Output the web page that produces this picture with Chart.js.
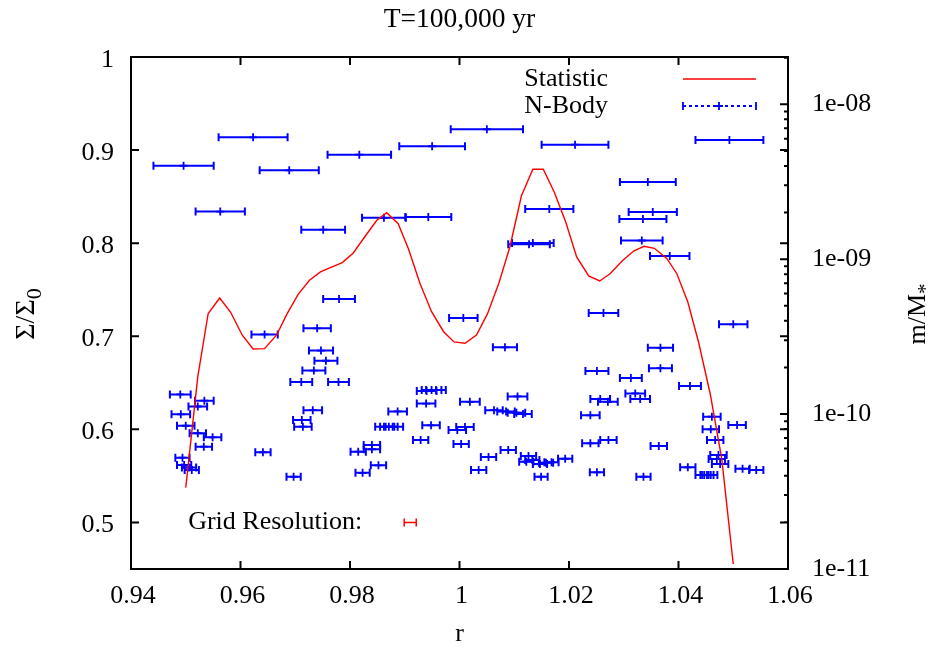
<!DOCTYPE html>
<html>
<head>
<meta charset="utf-8">
<title>T=100,000 yr</title>
<script src="https://cdn.jsdelivr.net/npm/chart.js@4/dist/chart.umd.min.js"></script>
<style>
  html, body { margin: 0; padding: 0; background: #fff; }
  #wrap { width: 942px; height: 650px; }
</style>
</head>
<body>
<div id="wrap"><canvas id="c" width="942" height="650"></canvas></div>
<script>
// Statistic curve: surface density ratio along the radial grid
const statR = [0.9500, 0.9522, 0.9541, 0.9562, 0.9582, 0.9603, 0.9623, 0.9644, 0.9666, 0.9685,
               0.9705, 0.9726, 0.9746, 0.9765, 0.9786, 0.9806, 0.9828, 0.9849, 0.9867, 0.9888,
               0.9907, 0.9928, 0.9949, 0.9971, 0.9990, 1.0010, 1.0031, 1.0051, 1.0072, 1.0092,
               1.0113, 1.0134, 1.0153, 1.0173, 1.0194, 1.0214, 1.0236, 1.0256, 1.0275, 1.0297,
               1.0318, 1.0337, 1.0356, 1.0379, 1.0397, 1.0417, 1.0437, 1.0458, 1.0479, 1.0500];
const statSigma = [0.5374, 0.6566, 0.7245, 0.7411, 0.7258, 0.7014, 0.6864, 0.6867, 0.7014, 0.7240,
                   0.7447, 0.7602, 0.7691, 0.7739, 0.7791, 0.7895, 0.8077, 0.8246, 0.8328, 0.8209,
                   0.7934, 0.7565, 0.7264, 0.7049, 0.6939, 0.6925, 0.7014, 0.7240, 0.7573, 0.7959,
                   0.8507, 0.8794, 0.8794, 0.8550, 0.8228, 0.7852, 0.7648, 0.7594, 0.7672, 0.7809,
                   0.7916, 0.7967, 0.7945, 0.7834, 0.7672, 0.7368, 0.6928, 0.6380, 0.5682, 0.4554];

// N-body embryos: orbital radius, mass (m/M*) and radial half-width of the bar
const bodyR = [0.9623, 0.9496, 0.9689, 0.9817, 0.9950, 1.0050, 1.0211, 1.0493, 0.9563, 0.9751,
               0.9862, 0.9943, 1.0164, 1.0127, 1.0134, 1.0344, 1.0353, 1.0335, 1.0333, 1.0384,
               0.9780, 1.0263, 1.0500, 1.0367, 1.0251, 1.0367, 1.0313, 1.0421, 1.0321, 1.0330,
               1.0257, 1.0271, 1.0239, 1.0461, 1.0507, 1.0459, 1.0467, 1.0239, 1.0272, 1.0364,
               1.0470, 1.0476, 1.0473, 1.0417, 1.0517, 1.0542, 1.0251, 1.0443, 1.0452, 1.0459,
               1.0336, 1.0007, 1.0083, 0.9940, 0.9949, 0.9957, 0.9939, 0.9887, 1.0019, 1.0106,
               1.0063, 1.0085, 1.0104, 1.0116, 0.9862, 0.9871, 0.9881, 0.9948, 0.9996, 1.0010,
               0.9929, 1.0003, 0.9840, 0.9840, 0.9815, 1.0053, 1.0089, 1.0126, 1.0122, 1.0133,
               1.0147, 1.0158, 1.0168, 1.0193, 0.9852, 0.9823, 1.0035, 1.0149, 0.9644, 0.9740,
               0.9747, 0.9756, 0.9734, 0.9711, 0.9779, 0.9490, 0.9534, 0.9522, 0.9491, 0.9732,
               0.9712, 0.9714, 0.9500, 0.9522, 0.9549, 0.9533, 0.9641, 0.9494, 0.9497, 0.9506,
               0.9511, 0.9697];
const bodyMass = [6.12e-9, 4.01e-9, 3.75e-9, 4.73e-9, 5.36e-9, 6.90e-9, 5.49e-9, 5.88e-9, 2.03e-9, 1.55e-9,
                  1.85e-9, 1.87e-9, 2.11e-9, 1.25e-9, 1.27e-9, 3.15e-9, 2.02e-9, 1.82e-9, 1.32e-9, 1.05e-9,
                  5.53e-10, 4.50e-10, 3.80e-10, 2.68e-10, 1.90e-10, 1.98e-10, 1.71e-10, 1.52e-10, 1.36e-10, 1.25e-10,
                  1.25e-10, 1.20e-10, 9.82e-11, 9.62e-11, 8.50e-11, 7.98e-11, 6.80e-11, 6.48e-11, 6.80e-11, 6.22e-11,
                  5.13e-11, 4.76e-11, 5.45e-11, 4.53e-11, 4.44e-11, 4.35e-11, 4.21e-11, 4.04e-11, 4.04e-11, 4.04e-11,
                  3.94e-11, 4.17e-10, 2.70e-10, 1.41e-10, 1.43e-10, 1.43e-10, 1.17e-10, 1.04e-10, 1.20e-10, 1.30e-10,
                  1.06e-10, 1.04e-10, 1.02e-10, 1.00e-10, 8.29e-11, 8.29e-11, 8.29e-11, 8.46e-11, 7.90e-11, 8.25e-11,
                  6.80e-11, 6.41e-11, 6.32e-11, 5.93e-11, 5.72e-11, 5.28e-11, 5.86e-11, 5.36e-11, 4.93e-11, 5.05e-11,
                  4.76e-11, 4.86e-11, 4.88e-11, 5.15e-11, 4.67e-11, 4.18e-11, 4.35e-11, 3.94e-11, 3.27e-10, 3.58e-10,
                  2.57e-10, 2.21e-10, 1.91e-10, 1.61e-10, 1.61e-10, 1.34e-10, 1.22e-10, 1.12e-10, 9.97e-11, 1.06e-10,
                  9.16e-11, 8.29e-11, 8.41e-11, 7.52e-11, 7.08e-11, 6.16e-11, 5.67e-11, 5.23e-11, 4.69e-11, 4.52e-11,
                  4.35e-11, 3.94e-11];
const bodyHalfWidth = [0.0063, 0.0055, 0.0054, 0.0058, 0.0060, 0.0066, 0.0061, 0.0062, 0.0045, 0.0040,
                       0.0040, 0.0042, 0.0044, 0.0038, 0.0038, 0.0051, 0.0044, 0.0043, 0.0038, 0.0036,
                       0.0029, 0.0027, 0.0026, 0.0023, 0.0021, 0.0021, 0.0020, 0.0020, 0.0018, 0.0018,
                       0.0018, 0.0018, 0.0017, 0.0016, 0.0016, 0.0015, 0.0015, 0.0015, 0.0015, 0.0015,
                       0.0015, 0.0015, 0.0015, 0.0014, 0.0013, 0.0013, 0.0013, 0.0012, 0.0012, 0.0012,
                       0.0013, 0.0026, 0.0022, 0.0018, 0.0018, 0.0018, 0.0017, 0.0017, 0.0018, 0.0018,
                       0.0016, 0.0016, 0.0016, 0.0016, 0.0016, 0.0016, 0.0016, 0.0016, 0.0016, 0.0016,
                       0.0014, 0.0014, 0.0015, 0.0015, 0.0014, 0.0014, 0.0014, 0.0014, 0.0013, 0.0013,
                       0.0013, 0.0013, 0.0013, 0.0013, 0.0014, 0.0013, 0.0014, 0.0012, 0.0024, 0.0025,
                       0.0022, 0.0021, 0.0021, 0.0020, 0.0019, 0.0019, 0.0017, 0.0017, 0.0017, 0.0017,
                       0.0016, 0.0016, 0.0016, 0.0015, 0.0016, 0.0015, 0.0014, 0.0013, 0.0013, 0.0013,
                       0.0013, 0.0013];

// Grid resolution marker (one cell of the radial grid)
const gridResR = [0.991];
const gridResSigma = [0.5];
const gridResHalf = [0.0011];

// Axis ticks
const xTicks = [0.94, 0.96, 0.98, 1, 1.02, 1.04, 1.06];
const xTickLabels = ['0.94', '0.96', '0.98', '1', '1.02', '1.04', '1.06'];
const yTicks = [0.5, 0.6, 0.7, 0.8, 0.9, 1];
const yTickLabels = ['0.5', '0.6', '0.7', '0.8', '0.9', '1'];
const y2Ticks = [1e-11, 1e-10, 1e-9, 1e-8];
const y2TickLabels = ['1e-11', '1e-10', '1e-09', '1e-08'];

const FONT = "'Liberation Serif', 'Times New Roman', serif";
const FS = 26;
const BLUE = '#0000ff';
const RED = '#ff0000';

function hBar(ctx, x1, x2, y, cap) {
  ctx.beginPath();
  ctx.moveTo(x1, y); ctx.lineTo(x2, y);
  ctx.moveTo(x1, y - cap); ctx.lineTo(x1, y + cap);
  ctx.moveTo(x2, y - cap); ctx.lineTo(x2, y + cap);
  ctx.stroke();
}

// Rotated axis label with a subscript, reading bottom to top
function rotatedLabel(ctx, cx, cy, main, sub, size) {
  ctx.save();
  ctx.translate(cx, cy);
  ctx.rotate(-Math.PI / 2);
  ctx.fillStyle = '#000';
  ctx.textAlign = 'left';
  ctx.textBaseline = 'alphabetic';
  const mainFont = size + 'px ' + FONT;
  const subFont = Math.round(size * 0.8) + 'px ' + FONT;
  ctx.font = mainFont;
  const w1 = ctx.measureText(main).width;
  ctx.font = subFont;
  const w2 = ctx.measureText(sub).width;
  const start = -(w1 + w2) / 2;
  const base = size * 0.34;
  ctx.font = mainFont;
  ctx.fillText(main, start, base);
  ctx.font = subFont;
  ctx.fillText(sub, start + w1, base + size * 0.28);
  ctx.restore();
}

// Horizontal error bars for the N-body points and the grid cell
const errorBars = {
  id: 'errorBars',
  beforeDatasetsDraw(chart) {
    const { ctx, chartArea: a, scales: { x, y, y2 } } = chart;
    ctx.save();
    ctx.beginPath();
    ctx.rect(a.left, a.top, a.right - a.left, a.bottom - a.top);
    ctx.clip();
    ctx.strokeStyle = BLUE;
    ctx.lineWidth = 2;
    bodyR.forEach((r, i) => {
      hBar(ctx, x.getPixelForValue(r - bodyHalfWidth[i]), x.getPixelForValue(r + bodyHalfWidth[i]),
           y2.getPixelForValue(bodyMass[i]), 4);
    });
    ctx.strokeStyle = RED;
    ctx.lineWidth = 1.5;
    gridResR.forEach((r, i) => {
      hBar(ctx, x.getPixelForValue(r - gridResHalf[i]), x.getPixelForValue(r + gridResHalf[i]),
           y.getPixelForValue(gridResSigma[i]), 4);
    });
    ctx.restore();
  }
};

// Border, inward ticks, key and axis labels
const frame = {
  id: 'frame',
  afterDraw(chart) {
    const { ctx, chartArea: a, scales: { x, y, y2 } } = chart;
    ctx.save();
    ctx.strokeStyle = '#000';
    ctx.lineWidth = 2;
    ctx.beginPath();
    xTicks.forEach(v => {
      const px = x.getPixelForValue(v);
      ctx.moveTo(px, a.bottom); ctx.lineTo(px, a.bottom - 8);
      ctx.moveTo(px, a.top); ctx.lineTo(px, a.top + 8);
    });
    yTicks.forEach(v => {
      const py = y.getPixelForValue(v);
      ctx.moveTo(a.left, py); ctx.lineTo(a.left + 8, py);
      ctx.moveTo(a.right, py); ctx.lineTo(a.right - 8, py);
    });
    for (let e = -11; e <= -8; e++) {
      for (let k = 1; k < 10; k++) {
        const v = k * Math.pow(10, e);
        if (v > y2.max) break;
        const py = y2.getPixelForValue(v);
        const len = k === 1 ? 8 : 4;
        ctx.moveTo(a.right, py); ctx.lineTo(a.right - len, py);
      }
    }
    ctx.stroke();
    ctx.strokeRect(a.left, a.top, a.right - a.left, a.bottom - a.top);

    // key
    ctx.font = FS + 'px ' + FONT;
    ctx.fillStyle = '#000';
    ctx.textAlign = 'right';
    ctx.textBaseline = 'middle';
    const ds = chart.data.datasets;
    ctx.fillText(ds[0].label, 608, 79);
    ctx.fillText(ds[1].label, 608, 106);
    ctx.strokeStyle = RED;
    ctx.lineWidth = 1.4;
    ctx.beginPath(); ctx.moveTo(683, 79); ctx.lineTo(756, 79); ctx.stroke();
    ctx.strokeStyle = BLUE;
    ctx.lineWidth = 1.8;
    ctx.setLineDash([3, 3]);
    ctx.beginPath(); ctx.moveTo(683, 106); ctx.lineTo(756, 106); ctx.stroke();
    ctx.setLineDash([]);
    ctx.beginPath();
    ctx.moveTo(683, 102); ctx.lineTo(683, 110);
    ctx.moveTo(756, 102); ctx.lineTo(756, 110);
    ctx.moveTo(715, 106); ctx.lineTo(723, 106);
    ctx.moveTo(719, 102); ctx.lineTo(719, 110);
    ctx.stroke();

    // grid resolution caption, placed left of its bar
    const gx = x.getPixelForValue(gridResR[0] - gridResHalf[0]);
    const gy = y.getPixelForValue(gridResSigma[0]);
    ctx.fillStyle = '#000';
    ctx.fillText('Grid Resolution:', gx - 42, gy);

    // axis titles
    rotatedLabel(ctx, 24, 314, '\u03A3/\u03A3', '0', 28);
    rotatedLabel(ctx, 916, 314, 'm/M', '*', FS);
    ctx.restore();
  }
};

const tickFont = { family: FONT, size: FS };

new Chart(document.getElementById('c'), {
  type: 'scatter',
  data: {
    datasets: [
      {
        label: 'Statistic',
        data: statR.map((r, i) => ({ x: r, y: statSigma[i] })),
        showLine: true,
        borderColor: RED,
        borderWidth: 1.4,
        pointRadius: 0,
        tension: 0,
        xAxisID: 'x',
        yAxisID: 'y'
      },
      {
        label: 'N-Body',
        data: bodyR.map((r, i) => ({ x: r, y: bodyMass[i] })),
        showLine: false,
        pointStyle: 'cross',
        pointRadius: 4,
        pointBorderWidth: 1.8,
        pointBorderColor: BLUE,
        pointBackgroundColor: BLUE,
        xAxisID: 'x',
        yAxisID: 'y2'
      }
    ]
  },
  options: {
    responsive: false,
    devicePixelRatio: 1,
    animation: false,
    layout: { padding: 0 },
    plugins: {
      legend: { display: false },
      tooltip: { enabled: false },
      title: {
        display: true,
        text: 'T=100,000 yr',
        color: '#000',
        font: { family: FONT, size: 27.5, weight: 'normal' },
        padding: { top: 3, bottom: 21 },
        fullSize: false
      }
    },
    scales: {
      x: {
        type: 'linear',
        position: 'bottom',
        min: 0.94,
        max: 1.06,
        grid: { display: false, drawTicks: false },
        border: { display: false },
        afterBuildTicks: s => { s.ticks = xTicks.map(v => ({ value: v })); },
        ticks: {
          callback: (v, i) => xTickLabels[i],
          font: tickFont,
          color: '#000',
          padding: 12,
          labelOffset: 2,
          maxRotation: 0,
          autoSkip: false
        },
        title: {
          display: true,
          text: 'r',
          color: '#000',
          font: tickFont,
          padding: { top: 0, bottom: 0 }
        },
        afterFit: s => { s.height = 81; }
      },
      y: {
        type: 'linear',
        position: 'left',
        min: 0.45,
        max: 1,
        grid: { display: false, drawTicks: false },
        border: { display: false },
        afterBuildTicks: s => { s.ticks = yTicks.map(v => ({ value: v })); },
        ticks: {
          callback: (v, i) => yTickLabels[i],
          font: tickFont,
          color: '#000',
          padding: 17,
          labelOffset: 3,
          autoSkip: false
        },
        afterFit: s => { s.width = 131; }
      },
      y2: {
        type: 'logarithmic',
        position: 'right',
        min: 1e-11,
        max: 2.02e-8,
        grid: { display: false, drawTicks: false },
        border: { display: false },
        afterBuildTicks: s => { s.ticks = y2Ticks.map(v => ({ value: v })); },
        ticks: {
          callback: (v, i) => y2TickLabels[i],
          font: tickFont,
          color: '#000',
          padding: 24,
          autoSkip: false
        },
        afterFit: s => { s.width = 154; }
      }
    }
  },
  plugins: [errorBars, frame]
});
</script>
</body>
</html>
